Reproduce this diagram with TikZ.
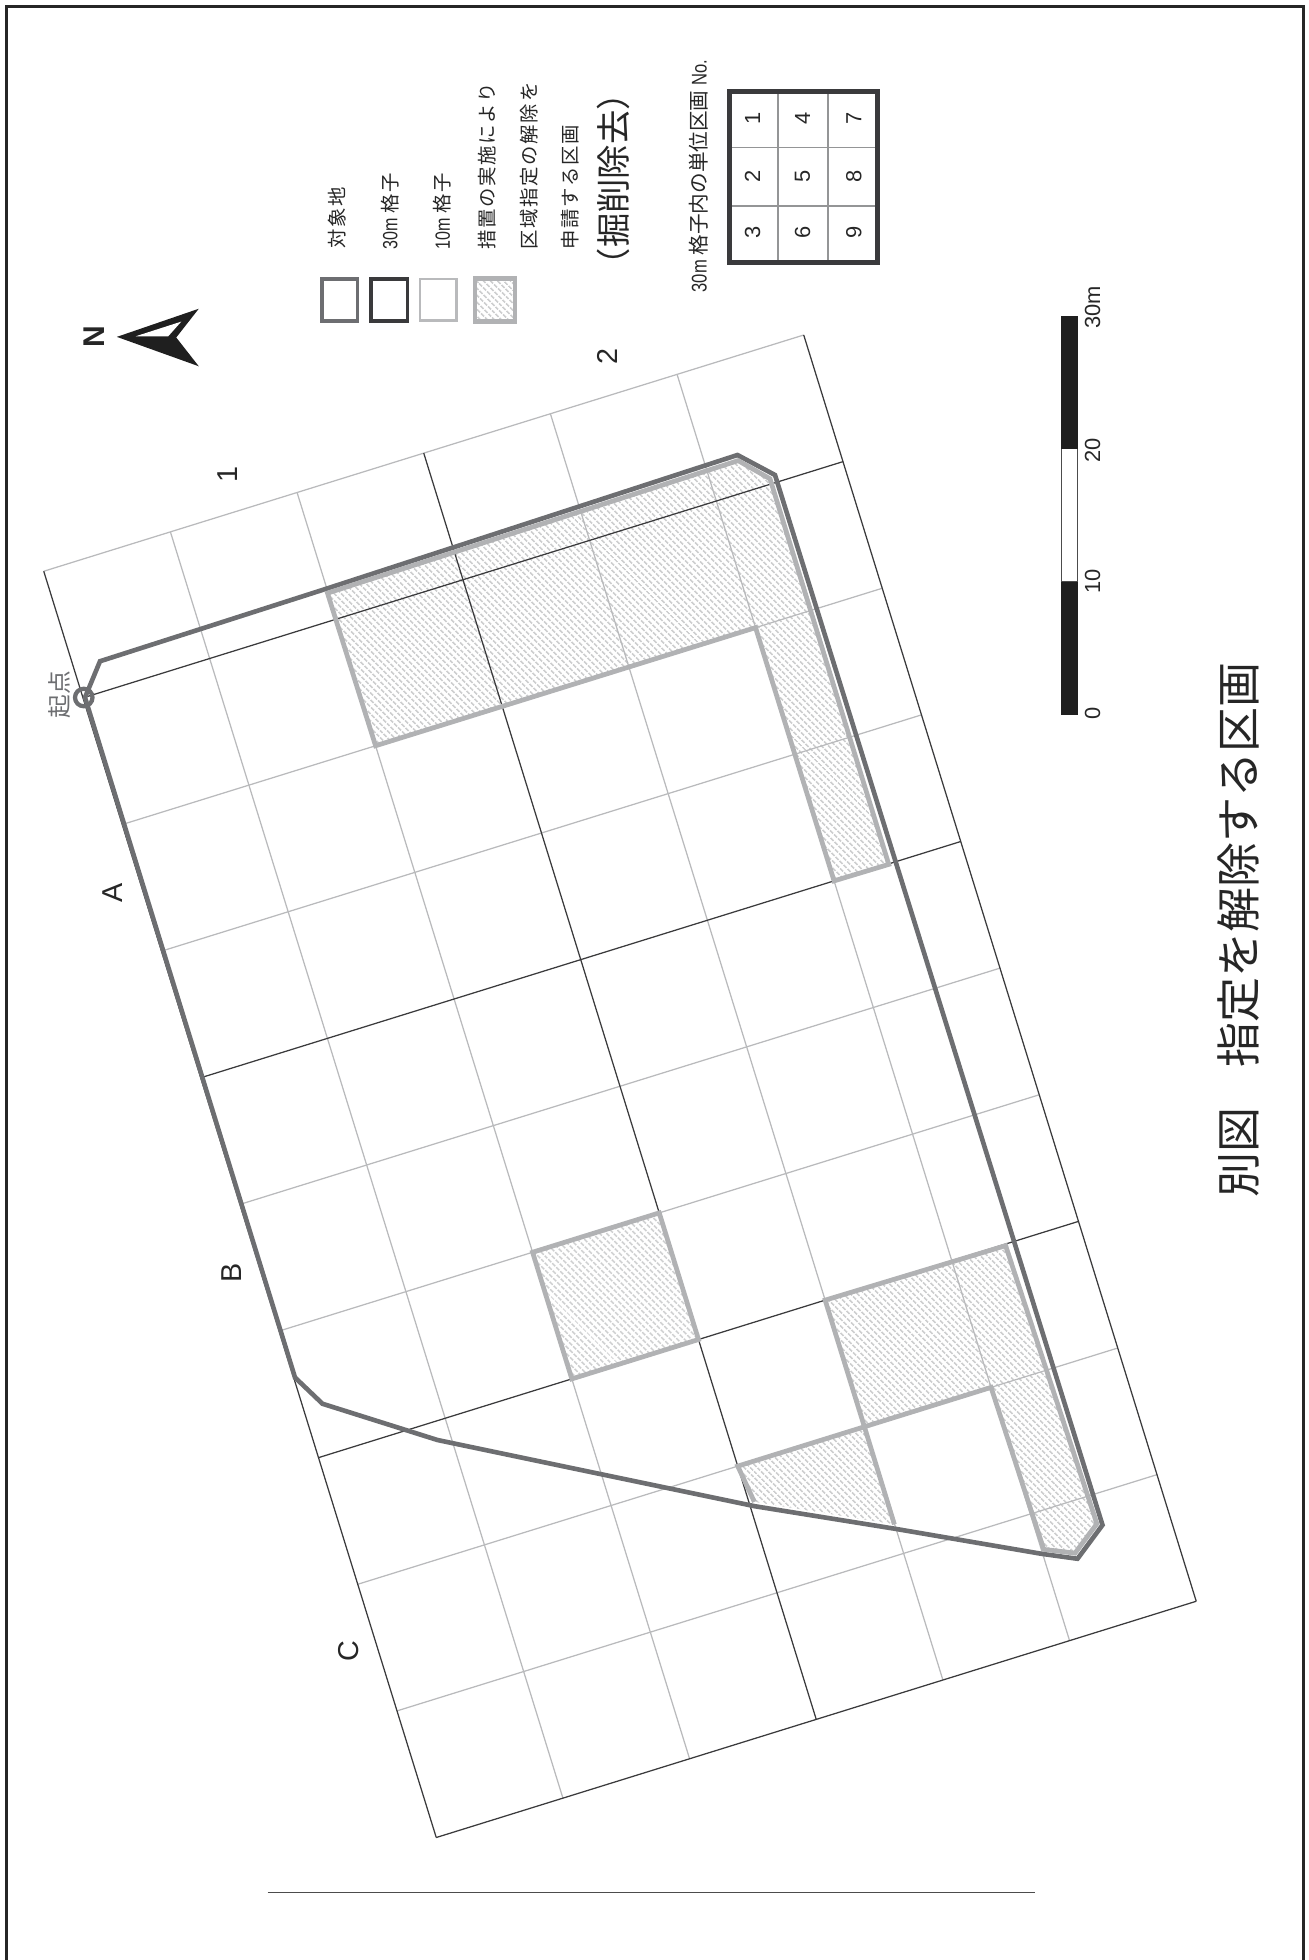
\documentclass[tikz,border=0pt]{standalone}
\usepackage{fontspec}
\setmainfont{Liberation Sans}
\newfontfamily\jp{Noto Sans CJK JP}
\newfontfamily\jpw{Noto Sans CJK JP}[LetterSpace=9]
\newfontfamily\lat{Liberation Sans}
\newfontfamily\latn{Liberation Sans}[FakeStretch=0.78]
\usetikzlibrary{patterns.meta}
\definecolor{site}{HTML}{6D6E71}
\definecolor{gridA}{HTML}{3A3A3C}
\definecolor{gridB}{HTML}{B9BABC}
\definecolor{hatchline}{HTML}{B1B2B4}
\tikzset{
  fine/.style={draw=gridB,line width=1pt},
  coarse/.style={draw=gridA,line width=1pt},
  sitepath/.style={draw=site,line width=3.7pt,line join=miter},
  hatchfill/.style={pattern={Lines[angle=-45,distance=4pt,line width=1.5pt]},pattern color=gridB!70},
  hatchedge/.style={draw=hatchline,line width=3.8pt,line join=miter},
  rot/.style={rotate=90,inner sep=0pt,anchor=west},
  rotc/.style={rotate=90,inner sep=0pt,anchor=center},
  numlabel/.style={rotc,font=\lat\fontsize{17.5}{17.5}\selectfont,text=black!85},
  axislabel/.style={rotc,font=\lat\fontsize{23}{23}\selectfont,text=black!85},
  legendtxt/.style={rot,font=\jpw\fontsize{15.5}{16}\selectfont,text=black!85},
}
\begin{document}
\begin{tikzpicture}[x=1pt,y=-1pt]
\useasboundingbox (0,0) rectangle (1047,1568);
% grid points
\foreach \u in {0,...,6}{\foreach \v in {0,...,10}{
  \coordinate (g\u-\v) at ({35+101.33*\u+31.4*\v},{457-31.5*\u+101.3*\v});
}}
% page frame
\coordinate (f1) at (4.8,1568);\coordinate (f2) at (4.8,5.2);\coordinate (f3) at (1042.5,5.2);\coordinate (f4) at (1042.5,1568);
\draw[draw=black!85,line width=2.4pt] (f1)--(f2)--(f3)--(f4);
% site line vertices
\coordinate (a) at (68,558);\coordinate (b) at (80,529);\coordinate (c) at (261,471);
\coordinate (d) at (590,364);\coordinate (e) at (620,380);\coordinate (f) at (882,1220);
\coordinate (h) at (862,1247);\coordinate (i) at (833,1243);\coordinate (j) at (716,1223);
\coordinate (k) at (604,1205);\coordinate (l) at (460,1175);\coordinate (m) at (350,1152);
\coordinate (n) at (258,1123);\coordinate (o) at (236,1102);
% inner offset of the site line for the hatched regions
\coordinate (r1a) at (262,474.5);\coordinate (r1b) at (590.5,368.5);\coordinate (r1c) at (616,383);\coordinate (r1d) at (711,691.5);
\coordinate (r3a) at (804.5,996.5);\coordinate (r3b) at (877.5,1219);\coordinate (r3c) at (860,1242.5);\coordinate (r3d) at (835,1239.5);
\coordinate (r4c) at (715.5,1219.5);\coordinate (r4d) at (603.5,1201.5);
% hatched fills
\fill[hatchfill] (r1a)--(r1b)--(r1c)--(r1d)--(g5-4)--(g5-2)--(g2-2)--cycle;
\fill[hatchfill] (g2-6)--(g3-6)--(g3-7)--(g2-7)--cycle;
\fill[hatchfill] (g4-7)--(r3a)--(r3b)--(r3c)--(r3d)--(g5-8)--(g4-8)--cycle;
\fill[hatchfill] (g3-8)--(g4-8)--(r4c)--(r4d)--cycle;
% 10 m grid
\foreach \u in {1,2,4,5}{\draw[fine] (g\u-0)--(g\u-10);}
\foreach \v in {0,2,3,5,6,8,9}{\draw[fine] (g0-\v)--(g6-\v);}
% 30 m grid
\foreach \u in {0,3,6}{\draw[coarse] (g\u-0)--(g\u-10);}
\foreach \v in {1,4,7,10}{\draw[coarse] (g0-\v)--(g6-\v);}
% site outline
\draw[sitepath] (a)--(b)--(c)--(d)--(e)--(f)--(h)--(i)--(j)--(k)--(l)--(m)--(n)--(o)--cycle;
% hatched outlines
\draw[hatchedge] (r1a)--(r1b)--(r1c)--(r1d)--(g5-4)--(g5-2)--(g2-2)--cycle;
\draw[hatchedge] (g2-6)--(g3-6)--(g3-7)--(g2-7)--cycle;
\draw[hatchedge] (g4-7)--(r3a)--(r3b)--(r3c)--(r3d)--(g5-8)--(g4-8)--cycle;
\draw[hatchedge] (r4d)--(g3-8)--(g4-8)--(r4c);
% start point
\node[circle,draw=site,line width=3.4pt,minimum size=14pt,inner sep=0pt] (start) at (67,558) {};
\node[rotc,font=\jp\fontsize{19}{19}\selectfont,text=site] (startlabel) at (48,555.5) {起点};
% axis labels
\node[axislabel] (la) at (90,714) {A};
\node[axislabel] (lb) at (185,1018) {B};
\node[axislabel] (lc) at (279,1321) {C};
\node[axislabel] (l1) at (182,380) {1};
\node[axislabel] (l2) at (486,285) {2};
% north arrow
\node[rotc,font=\lat\bfseries\fontsize{24}{24}\selectfont,text=black!85] (north) at (75,269.5) {N};
\fill[black!88] (93.5,269.5)--(159,247)--(141,270)--(159,293)--cycle;
\fill[white] (108.6,269)--(145,257.3)--(134.6,269)--cycle;
% legend
\draw[draw=site,line width=3pt] (257.5,223) rectangle (286,257);
\draw[draw=gridA,line width=3pt] (297,223) rectangle (326,257);
\draw[draw=gridB,line width=2pt] (336,223) rectangle (365,256.5);
\fill[hatchfill] (380,223) rectangle (412,257);
\draw[hatchedge] (380,223) rectangle (412,257);
\node[legendtxt] (t1) at (270,199) {対象地};
\node[legendtxt] (t2) at (312,200) {\latn\fontsize{16.5}{16}\selectfont 30m {\jpw\fontsize{15.5}{16}\selectfont 格子}};
\node[legendtxt] (t3) at (354,200) {\latn\fontsize{16.5}{16}\selectfont 10m {\jpw\fontsize{15.5}{16}\selectfont 格子}};
\node[legendtxt] (t4) at (390,200) {措置の実施により};
\node[legendtxt] (t5) at (423,200) {区域指定の解除を};
\node[legendtxt] (t6) at (456,200) {申請する区画};
\node[rot,font=\jp\fontsize{27.5}{27.5}\selectfont,text=black!85] (t7) at (491,226) {（掘削除去）};
\node[rot,font=\jp\fontsize{16.5}{16.5}\selectfont,text=black!85] (t8) at (559,234) {\latn\fontsize{17}{17}\selectfont 30m {\jp\fontsize{16.5}{16.5}\selectfont 格子内の単位区画} No.};
% unit box
\foreach \x in {622.5,662.5}{\draw[gridB!80!black,line width=1.5pt] (\x,72)--(\x,212);}
\foreach \y in {118,165}{\draw[gridB!80!black,line width=1.5pt] (582,\y)--(703,\y);}
\draw[draw=gridA,line width=4pt] (583.5,73.5) rectangle (702,210);
\node[numlabel] (n1) at (602,95) {1};
\node[numlabel] (n2) at (602,141) {2};
\node[numlabel] (n3) at (602,186) {3};
\node[numlabel] (n4) at (642,95) {4};
\node[numlabel] (n5) at (642,141) {5};
\node[numlabel] (n6) at (642,186) {6};
\node[numlabel] (n7) at (683,95) {7};
\node[numlabel] (n8) at (683,141) {8};
\node[numlabel] (n9) at (683,186) {9};
% scale bar
\fill[black!88] (849,572) rectangle (862,465);
\draw[black!70,line width=.6pt,fill=white] (849.2,465) rectangle (861.8,359);
\fill[black!88] (849,359) rectangle (862,253);
\node[numlabel] (s0) at (874,571) {0};
\node[numlabel] (s1) at (874,465) {10};
\node[numlabel] (s2) at (874,360) {20};
\node[rot,font=\lat\fontsize{17.5}{17.5}\selectfont,text=black!85] (s3) at (874,263) {30m};
% title
\node[rot,font=\jp\fontsize{36}{36}\selectfont,text=black!85] (title) at (991,958) {別図\hspace{32pt}指定を解除する区画};
% rule
\coordinate (ru1) at (214,1514);\coordinate (ru2) at (828,1514);
\draw[black!70,line width=.6pt] (ru1)--(ru2);
\end{tikzpicture}
\end{document}
